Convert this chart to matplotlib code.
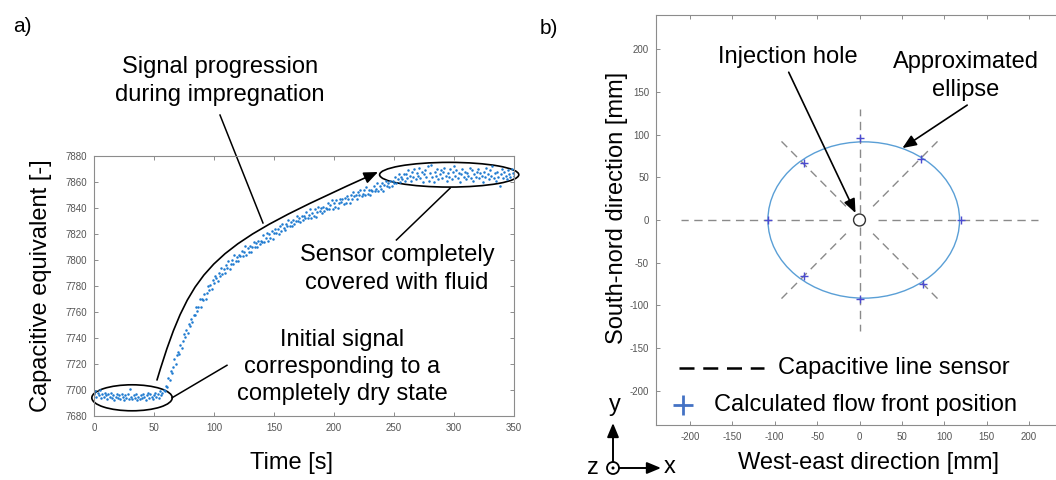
import numpy as np
import matplotlib
matplotlib.use("Agg")
import matplotlib.pyplot as plt
from matplotlib.patches import Ellipse, Circle, FancyArrowPatch
from matplotlib.path import Path
from matplotlib.transforms import Affine2D

plt.rcParams['font.family'] = ['Liberation Sans', 'DejaVu Sans']
plt.rcParams['axes.unicode_minus'] = False

# ---- a) capacitive equivalent, one sample per second ----
signal_dry = [7697, 7699, 7695, 7698, 7696, 7700, 7694, 7697, 7695, 7698,
              7696, 7693, 7697, 7695, 7698, 7694, 7696, 7692, 7695, 7697,
              7694, 7696, 7693, 7697, 7695, 7692, 7696, 7694, 7697, 7693,
              7701, 7695, 7693, 7696, 7694, 7697, 7692, 7695, 7693, 7696,
              7694, 7697, 7695, 7692, 7696, 7698, 7694, 7697, 7695, 7693,
              7696, 7698, 7695, 7697, 7694, 7699, 7696, 7698]
signal_rise = [7700, 7699,
               7703, 7702, 7709, 7708, 7715, 7713, 7718, 7724, 7720, 7727,
               7729, 7728, 7735, 7732, 7738, 7743, 7741, 7746, 7744, 7751,
               7749, 7755, 7752, 7758, 7758, 7764, 7761, 7764, 7770, 7764,
               7770, 7769, 7774, 7770, 7775, 7780, 7777, 7781, 7778, 7785,
               7782, 7788, 7786, 7784, 7790, 7788, 7794, 7789, 7793, 7790,
               7796, 7794, 7799, 7793, 7797, 7800, 7797, 7804, 7799, 7802,
               7799, 7804, 7803, 7807, 7803, 7806, 7811, 7804, 7809, 7806,
               7811, 7806, 7810, 7814, 7810, 7813, 7810, 7815, 7812, 7815,
               7814, 7819, 7814, 7817, 7821, 7815, 7820, 7817, 7822, 7816,
               7821, 7824, 7821, 7824, 7820, 7826, 7822, 7828, 7825, 7823,
               7828, 7826, 7831, 7826, 7829, 7826, 7831, 7828, 7830, 7834,
               7830, 7832, 7829, 7834, 7831, 7834, 7832, 7837, 7832, 7835,
               7839, 7832, 7836, 7834, 7839, 7833, 7837, 7841, 7838, 7840,
               7836, 7841, 7838, 7840, 7839, 7844, 7839, 7842, 7846, 7839,
               7844, 7841, 7846, 7840, 7844, 7847, 7845, 7847, 7843, 7848,
               7844, 7849, 7847, 7844, 7850, 7847, 7852, 7849, 7850, 7847,
               7852, 7850, 7854, 7849, 7851, 7854, 7850, 7856, 7851, 7854,
               7850, 7854, 7853, 7857, 7853, 7855, 7859, 7853, 7857, 7855,
               7859, 7853, 7858, 7861, 7857, 7859, 7856, 7861, 7857, 7861,
               7859, 7864, 7859, 7862, 7866, 7860, 7864, 7862, 7866, 7861]
signal_wet = [7866, 7863, 7869, 7865, 7861, 7868, 7864, 7870, 7862, 7867,
              7865, 7871, 7863, 7868, 7860, 7866, 7869, 7864, 7872, 7861,
              7867, 7873, 7864, 7860, 7868, 7865, 7870, 7862, 7866, 7869,
              7863, 7868, 7871, 7865, 7861, 7867, 7864, 7870, 7862, 7868,
              7872, 7865, 7869, 7863, 7867, 7860, 7866, 7870, 7864, 7868,
              7862, 7867, 7865, 7871, 7863, 7869, 7861, 7866, 7864, 7868,
              7870, 7863, 7867, 7865, 7860, 7868, 7864, 7871, 7866, 7862,
              7869, 7865, 7872, 7863, 7867, 7861, 7868, 7864, 7857, 7866,
              7870, 7863, 7868, 7865, 7862, 7869, 7866, 7864, 7870, 7867, 7865]
signal = signal_dry + signal_rise + signal_wet
time_s = np.arange(len(signal))  # sampled every 1 s

# ---- b) flow front on the eight sensor lines [mm] ----
front_x = [0, 72, 120, 75, 0, -65, -108, -66]
front_y = [96, 71, 0, -75, -92, -65, 0, 67]

# sensor lines: start and end point of each line [mm]
sensor_x0 = [22, 16, 0, -16, -22, -16, 0, 16]
sensor_y0 = [0, 16, 8, 16, 0, -16, -8, -16]
sensor_x1 = [210, 92, 0, -92, -210, -92, 0, 92]
sensor_y1 = [0, 92, 130, 92, 0, -92, -130, -92]

ellipse_center = (5, 0)
ellipse_width = 226
ellipse_height = 183
hole_radius = 7

W, H = 1056, 480
fig = plt.figure(figsize=(W / 100, H / 100), dpi=100)
# helper transform: pixel coordinates of the picture (y downwards)
img = Affine2D().scale(1 / W, -1 / H).translate(0, 1) + fig.transFigure

FS = 17
LS = 1.3
tick_grey = '#8c8c8c'


def style(ax):
    for s in ax.spines.values():
        s.set_color(tick_grey)
        s.set_linewidth(0.8)
    ax.tick_params(direction='in', top=True, right=True, length=3, width=0.7,
                   color=tick_grey, labelsize=7, labelcolor='#555555', pad=5)


# ================= a) =================
ax1 = fig.add_axes([94 / W, 1 - 416 / H, 420 / W, 260 / H])
ax1.plot(time_s, signal, 'o', ms=1.8, mew=0, color='#1f7bd0')
ax1.set_xlim(0, 350)
ax1.set_ylim(7680, 7880)
ax1.set_xticks(range(0, 351, 50))
ax1.set_yticks(range(7680, 7881, 20))
style(ax1)
ax1.set_xlabel('Time [s]', fontsize=FS)
ax1.xaxis.label.set_va('center')
ax1.xaxis.set_label_coords((292 - 94) / 420, (416 - 463) / 260)
ax1.set_ylabel('Capacitive equivalent [-]', fontsize=FS)
ax1.yaxis.label.set_va('center')
ax1.yaxis.set_label_coords((41 - 94) / 420, 0.5)

ax1.add_patch(Ellipse((31.7, 7694), 67, 20, fill=False, ec='black', lw=1.2, clip_on=False))
ax1.add_patch(Ellipse((296, 7865.6), 116, 19, fill=False, ec='black', lw=1.2, clip_on=False))

curve = Path([(52.5, 7707.7), (82.5, 7800), (100, 7810.8), (236.7, 7867.7)],
             [Path.MOVETO, Path.CURVE4, Path.CURVE4, Path.CURVE4])
ax1.add_patch(FancyArrowPatch(path=curve, arrowstyle='-|>,head_length=0.6,head_width=0.25',
                              mutation_scale=14, lw=1.2, color='black',
                              transform=ax1.transData, clip_on=False))
ax1.plot([105, 140.8], [7911.5, 7828.5], color='black', lw=1.1, clip_on=False)
ax1.plot([296.7, 252], [7855.2, 7815.4], color='black', lw=1.1, clip_on=False)
ax1.plot([65, 110.8], [7694, 7719], color='black', lw=1.1, clip_on=False)

fig.text(220, 81, 'Signal progression\nduring impregnation', transform=img,
         ha='center', va='center', fontsize=FS, linespacing=LS)
fig.text(397, 269, 'Sensor completely\ncovered with fluid', transform=img,
         ha='center', va='center', fontsize=FS, linespacing=LS)
fig.text(342, 367, 'Initial signal\ncorresponding to a\ncompletely dry state', transform=img,
         ha='center', va='center', fontsize=FS, linespacing=LS)
fig.text(22, 27, 'a)', transform=img, ha='center', va='center', fontsize=15)

# ================= b) =================
ax2 = fig.add_axes([656 / W, 1 - 425 / H, 407 / W, 410 / H])
ax2.set_xlim(-240, 240)
ax2.set_ylim(-240, 240)
ax2.set_xticks(range(-200, 201, 50))
ax2.set_yticks(range(-200, 201, 50))
style(ax2)
ax2.set_xlabel('West-east direction [mm]', fontsize=FS)
ax2.xaxis.label.set_va('center')
ax2.xaxis.set_label_coords((868 - 656) / 407, (425 - 463) / 410)
ax2.set_ylabel('South-nord direction [mm]', fontsize=FS)
ax2.yaxis.label.set_va('center')
ax2.yaxis.set_label_coords((617 - 656) / 407, (425 - 208) / 410)

for x0, y0, x1, y1 in zip(sensor_x0, sensor_y0, sensor_x1, sensor_y1):
    ax2.plot([x0, x1], [y0, y1], color='#8a8a8a', lw=1, dashes=(6, 4))
ax2.add_patch(Ellipse(ellipse_center, ellipse_width, ellipse_height,
                      fill=False, ec='#5a9fd6', lw=1))
ax2.plot(front_x, front_y, '+', ls='none', ms=6, mew=1, color='#4b4bd0')
ax2.add_patch(Circle((0, 0), hole_radius, fc='white', ec='#333333', lw=1, zorder=5))

# legend entries
ax2.plot([-213, -113], [-173, -173], color='black', lw=1.8, dashes=(6, 3.5))
ax2.text(-96.5, -173, 'Capacitive line sensor', va='center', fontsize=FS)
ax2.plot([-208], [-216], '+', ms=14, mew=2, color='#4472c4')
ax2.text(-172, -216, 'Calculated flow front position', va='center', fontsize=FS)

arrow_kw = dict(arrowstyle='-|>,head_length=0.6,head_width=0.25', mutation_scale=14,
                color='black', lw=1.2, shrinkA=0, shrinkB=0)
ax2.annotate('', xy=(-4.7, 8.2), xytext=(-83.5, 173), arrowprops=arrow_kw)
ax2.annotate('', xy=(50.6, 84.2), xytext=(127, 134.5), arrowprops=arrow_kw)
fig.text(788, 57, 'Injection hole', transform=img, ha='center', va='center', fontsize=FS)
fig.text(966, 76, 'Approximated\nellipse', transform=img, ha='center', va='center',
         fontsize=FS, linespacing=LS)
fig.text(549, 28, 'b)', transform=img, ha='center', va='center', fontsize=15)

# coordinate system symbol
fig.add_artist(Circle((613, 468), 6, transform=img, fill=False, ec='black', lw=1.3))
fig.add_artist(Circle((613, 468), 1.5, transform=img, fc='black', ec='none'))
fig.add_artist(FancyArrowPatch((613, 462), (613, 423), transform=img, shrinkA=0, shrinkB=0,
                               arrowstyle='-|>,head_length=0.6,head_width=0.25',
                               mutation_scale=14, lw=1.4, color='black'))
fig.add_artist(FancyArrowPatch((619, 468), (661, 468), transform=img, shrinkA=0, shrinkB=0,
                               arrowstyle='-|>,head_length=0.6,head_width=0.25',
                               mutation_scale=14, lw=1.4, color='black'))
fig.text(615, 405, 'y', transform=img, ha='center', va='center', fontsize=FS)
fig.text(664, 467, 'x', transform=img, ha='left', va='center', fontsize=FS)
fig.text(593, 468, 'z', transform=img, ha='center', va='center', fontsize=FS)

fig.savefig('out.png', dpi=100)
